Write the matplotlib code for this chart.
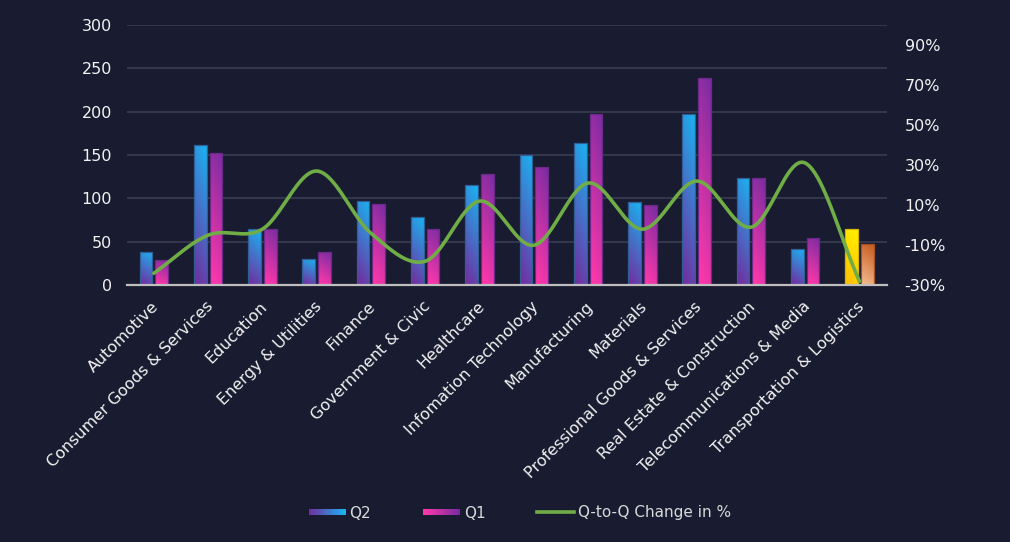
import numpy as np
import matplotlib
matplotlib.use("Agg")
import matplotlib.pyplot as plt
import matplotlib.transforms as mtrans
from matplotlib.colors import to_rgb
from matplotlib.patches import Rectangle
from matplotlib.lines import Line2D
from matplotlib.legend_handler import HandlerBase

# ---------------- data ----------------
categories = ["Automotive", "Consumer Goods & Services", "Education", "Energy & Utilities",
              "Finance", "Government & Civic", "Healthcare", "Infomation Technology",
              "Manufacturing", "Materials", "Professional Goods & Services",
              "Real Estate & Construction", "Telecommunications & Media",
              "Transportation & Logistics"]
q2 = [38, 162, 65, 30, 97, 79, 115, 150, 164, 96, 197, 123, 42, 65]
q1 = [29, 152, 65, 38, 94, 65, 128, 136, 197, 92, 239, 123, 55, 47]
change_pct = [-24, -5, -2, 27, -4, -18, 12, -10, 21, -2, 22, -1, 31, -28]
left_ticks = [0, 50, 100, 150, 200, 250, 300]
right_ticks = [-30, -10, 10, 30, 50, 70, 90]

# ---------------- style ----------------
BG = "#191c30"
GRID = "#363a50"
TXT = "#f2f2f2"
plt.rcParams['font.family'] = ['DejaVu Sans']

Q2_TOP, Q2_BOT = "#19b4f2", "#7030a0"
Q1_TOP, Q1_BOT = "#7a2ca2", "#ff38aa"
T2_TOP, T2_BOT = "#fff200", "#ffc000"
T1_TOP, T1_BOT = "#c55a1e", "#f4b98f"

fig = plt.figure(figsize=(10.10, 5.42), dpi=100, facecolor=BG)
ax = fig.add_axes([0.1254, 0.4736, 0.7525, 0.4808])
ax.set_facecolor(BG)

x = np.arange(len(categories))
w = 0.235
off = 0.145
bars2 = ax.bar(x - off, q2, width=w, color='none', edgecolor='none', zorder=2)
bars1 = ax.bar(x + off, q1, width=w, color='none', edgecolor='none', zorder=2)


def grad_fill(bar, ctop, cbot, edge):
    bx, by = bar.get_x(), bar.get_y()
    bw, bh = bar.get_width(), bar.get_height()
    n = 64
    v = np.linspace(0, 1, n)[:, None]
    h = np.linspace(0, 1, 16)[None, :]
    t = np.clip(0.85 * v + 0.2 * h - 0.05, 0, 1)
    ct, cb = np.array(to_rgb(ctop)), np.array(to_rgb(cbot))
    rgb = (1 - t)[..., None] * cb + t[..., None] * ct
    im = ax.imshow(rgb, extent=[bx, bx + bw, by, by + bh], origin='lower',
                   aspect='auto', zorder=2, interpolation='bilinear')
    im.set_clip_path(bar)
    r = Rectangle((bx, by), bw, bh, facecolor='none', edgecolor=edge, lw=0.9, zorder=3)
    ax.add_patch(r)


n = len(categories)
for i, (b2, b1) in enumerate(zip(bars2, bars1)):
    if i == n - 1:
        grad_fill(b2, T2_TOP, T2_BOT, "#d6b400")
        grad_fill(b1, T1_TOP, T1_BOT, "#a8531f")
    else:
        grad_fill(b2, Q2_TOP, Q2_BOT, "#2f5f95")
        grad_fill(b1, Q1_TOP, Q1_BOT, "#6a2a8a")

ax.set_xlim(-0.5, n - 0.5)
ax.set_ylim(0, 300)
ax.set_yticks(left_ticks)
ax.set_yticklabels([str(v) for v in left_ticks])
ax.yaxis.grid(True, color=GRID, lw=1.3, zorder=0)
ax.set_axisbelow(True)
for s in ['top', 'right', 'left']:
    ax.spines[s].set_visible(False)
ax.spines['bottom'].set_color('#bfbfbf')
ax.spines['bottom'].set_linewidth(1.6)
ax.spines['bottom'].set_zorder(4)
ax.tick_params(axis='y', length=0, pad=10.5, labelcolor=TXT, labelsize=11.5)
ax.tick_params(axis='x', length=0, pad=4, labelcolor=TXT, labelsize=11.5)
ax.set_xticks(x)
ax.set_xticklabels(categories, rotation=45, ha='right', rotation_mode='anchor')
shift = mtrans.ScaledTranslation(-3 / 100, -8 / 100, fig.dpi_scale_trans)
for lbl in ax.get_xticklabels():
    lbl.set_transform(lbl.get_transform() + shift)

# ---------------- line (secondary axis) ----------------
ax2 = ax.twinx()
ax2.set_ylim(-30, 100)
ax2.set_yticks(right_ticks)
ax2.set_yticklabels([f"{v}%" for v in right_ticks])
ax2.tick_params(axis='y', length=0, pad=13, labelcolor=TXT, labelsize=11.5)
for s in ax2.spines.values():
    s.set_visible(False)
ax2.patch.set_visible(False)


def catmull_rom(xs, ys, steps=40):
    xs = np.asarray(xs, float)
    ys = np.asarray(ys, float)
    px = np.concatenate([[2 * xs[0] - xs[1]], xs, [2 * xs[-1] - xs[-2]]])
    py = np.concatenate([[2 * ys[0] - ys[1]], ys, [2 * ys[-1] - ys[-2]]])
    ox, oy = [], []
    for i in range(1, len(px) - 2):
        t = np.linspace(0, 1, steps, endpoint=False)
        p0x, p1x, p2x, p3x = px[i - 1:i + 3]
        p0y, p1y, p2y, p3y = py[i - 1:i + 3]
        b1x = p1x + (p2x - p0x) / 6
        b1y = p1y + (p2y - p0y) / 6
        b2x = p2x - (p3x - p1x) / 6
        b2y = p2y - (p3y - p1y) / 6
        mt = 1 - t
        ox.append(mt**3 * p1x + 3 * mt**2 * t * b1x + 3 * mt * t**2 * b2x + t**3 * p2x)
        oy.append(mt**3 * p1y + 3 * mt**2 * t * b1y + 3 * mt * t**2 * b2y + t**3 * p2y)
    ox.append([xs[-1]])
    oy.append([ys[-1]])
    return np.concatenate(ox), np.concatenate(oy)


sx, sy = catmull_rom(x, change_pct)
ax2.plot(sx, sy, color="#70ad47", lw=2.6, solid_capstyle='round', zorder=5)
ax2.set_xlim(-0.5, n - 0.5)


# ---------------- legend ----------------
class HandlerGrad(HandlerBase):
    def __init__(self, c0, c1):
        super().__init__()
        self.c0 = np.array(to_rgb(c0))
        self.c1 = np.array(to_rgb(c1))

    def create_artists(self, legend, orig_handle, xdescent, ydescent, width, height,
                       fontsize, trans):
        k = 24
        hh = height * 0.55
        y0 = -ydescent + (height - hh) / 2
        arts = []
        for i in range(k):
            c = self.c0 + (self.c1 - self.c0) * i / (k - 1)
            arts.append(Rectangle((-xdescent + width * i / k, y0), width / k * 1.08, hh,
                                  facecolor=c, edgecolor='none', transform=trans))
        return arts


h_q2 = Rectangle((0, 0), 1, 1)
h_q1 = Rectangle((0, 0), 1, 1)
h_ln = Line2D([], [], color="#70ad47", lw=2.6)
leg = fig.legend([h_q2, h_q1, h_ln], ["Q2", "Q1", "Q-to-Q Change in %"],
                 loc='center', bbox_to_anchor=(520 / 1010, 1 - 513 / 542), ncol=3,
                 frameon=False, fontsize=11, labelcolor="#d9d9d9",
                 handlelength=2.4, handletextpad=0.25, columnspacing=3.4,
                 handler_map={h_q2: HandlerGrad(Q2_BOT, Q2_TOP),
                              h_q1: HandlerGrad(Q1_BOT, Q1_TOP)})

fig.savefig("out.png", dpi=100, facecolor=BG)
